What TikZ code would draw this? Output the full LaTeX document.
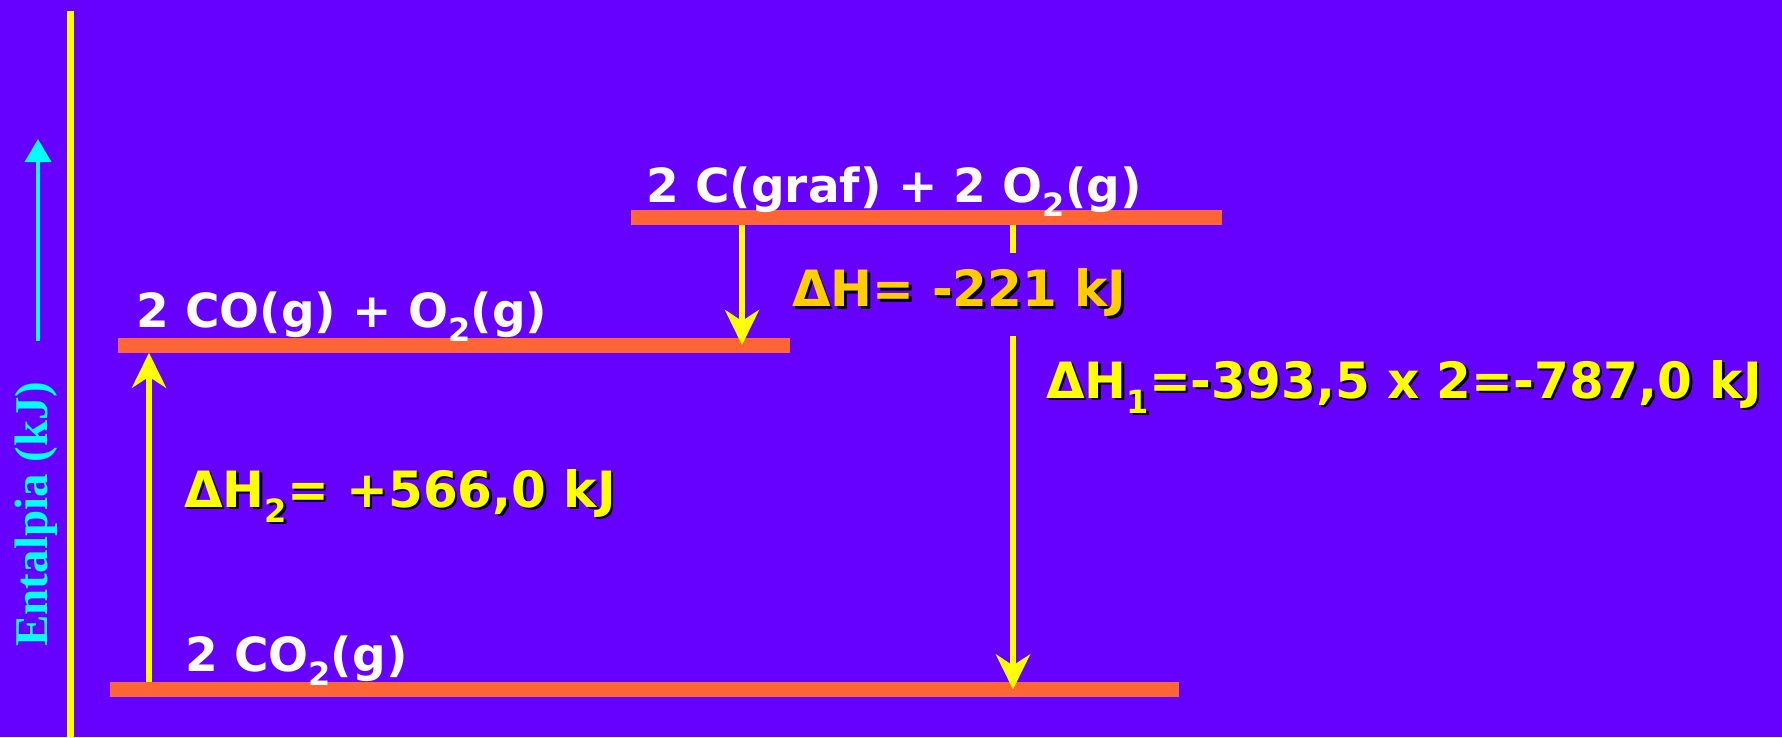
\documentclass[tikz,border=0pt]{standalone}
\usepackage{fontspec}
\setmainfont{DejaVu Sans}
\newfontfamily\axisfont{Liberation Serif}
\usetikzlibrary{arrows.meta,positioning}
\definecolor{bgviolet}{HTML}{6600FF}
\definecolor{levelorange}{HTML}{FF6633}
\definecolor{arrowyellow}{HTML}{FFFF00}
\definecolor{labelgold}{HTML}{FFCC00}
\definecolor{axiscyan}{HTML}{00FFFF}
\newcommand{\low}[1]{\raisebox{-0.3em}{\fontsize{32}{32}\selectfont #1}}
\newcommand{\shadowed}[2]{\makebox[0pt][l]{\kern2.5pt\raisebox{-2.5pt}{\color{black}#2}}{\color{#1}#2}}
\tikzset{
  level/.style={fill=levelorange, inner sep=0pt, minimum height=15pt},
  species/.style={text=white, font=\fontsize{47}{47}\selectfont\bfseries, inner sep=0pt, anchor=base west},
  dlabel/.style={font=\fontsize{50}{50}\selectfont\bfseries, inner sep=0pt, anchor=west},
  jump/.style={arrowyellow, line width=6pt, -{Stealth[length=35pt, width=34pt, inset=11pt]}},
  axisarrow/.style={axiscyan, line width=4pt, -{Triangle[length=23pt, width=26pt]}}
}

\begin{document}
\begin{tikzpicture}[x=1pt, y=-1pt]
  \fill[bgviolet] (0,0) rectangle (1782,737);
  \useasboundingbox (0,0) rectangle (1782,737);
  % enthalpy axis
  \draw[arrowyellow, line width=7pt] (70,11) -- (70,737);
  \node[rotate=90, text=axiscyan, inner sep=0pt, font=\axisfont\bfseries\fontsize{47}{47}\selectfont] (enth) at (36,514) {Entalpia (kJ)};
  \coordinate (axisfoot) at (38,341);
  \coordinate (axistip) at (38,139);
  \draw[axisarrow] (axisfoot) -- (axistip);
  % levels
  \node[level, minimum width=591pt] (graf) at (926.5,217.5) {};
  \node[level, minimum width=672pt] (co) at (454,345) {};
  \node[level, minimum width=1069pt] (dioxide) at (644.5,689.5) {};
  \node[species] (grafname) at (646,202) {2 C(graf) + 2 O\low{2}(g)};
  \node[species] (coname) at (136,327) {2 CO(g) + O\low{2}(g)};
  \node[species] (dioxname) at (185,671) {2 CO\low{2}(g)};
  % steps
  \coordinate (drop) at (742,0);
  \coordinate (rise) at (149,0);
  \coordinate (fall) at (1013,0);
  \draw[jump] (drop |- graf.south) -- (drop |- co.center);
  \draw[jump] (rise |- dioxide.north) -- (rise |- co.south);
  \draw[jump] (fall |- graf.south) -- (fall |- dioxide.center);
  \node[dlabel, fill=bgviolet, minimum height=83pt] (dh) at (792,294) {\shadowed{labelgold}{ΔH= -221 kJ}};
  \node[dlabel] (dhone) at (1046,388) {\shadowed{arrowyellow}{ΔH\low{1}=-393,5 x 2=-787,0 kJ}};
  \node[dlabel] (dhtwo) at (184,497) {\shadowed{arrowyellow}{ΔH\low{2}= +566,0 kJ}};
\end{tikzpicture}
\end{document}
